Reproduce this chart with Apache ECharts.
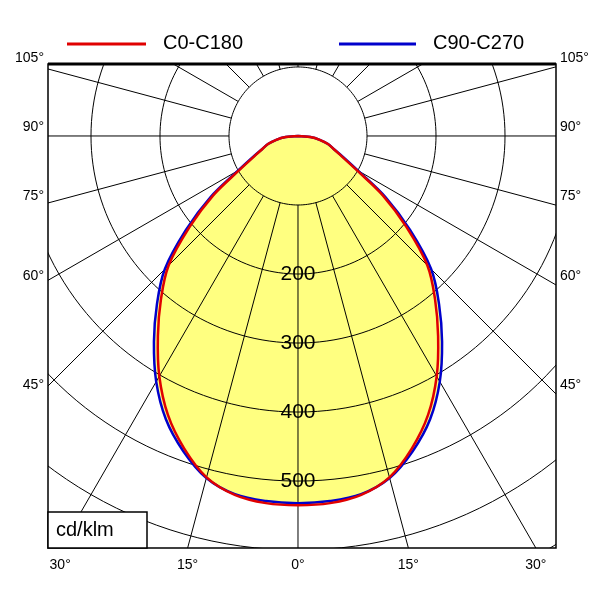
<!DOCTYPE html>
<html><head><meta charset="utf-8">
<script src="https://cdn.jsdelivr.net/npm/echarts@6/dist/echarts.min.js"></script>
<style>html,body{margin:0;background:#fff}#c{width:600px;height:600px}</style>
</head><body><div id="c"></div>
<script>
const angles = [0,5,10,15,20,25,30,35,40,45,50,55,60,65,70,75,80,85,90];
const c0c180 = [535,534,528,512,482,446,402,354,309,265,205,150,97,70,55,45,32,18,0];
const c90c270 = [532,531,527,513,486,453,411,364,318,273,212,155,100,72,55,45,32,18,0];
const ringValues = [100,200,300,400,500,600,700,800,900,1000];
const ringLabels = [200,300,400,500];
const sideLabels = [45,60,75,90,105];
const bottomLabels = [30,15,0,15,30];
const bottomAngles = [-30,-15,0,15,30];
const seriesNames = ['C0-C180','C90-C270'];

const XMIN=-362.3, XMAX=373.9, YMIN=-597, YMAX=104.3;
const rad = d => d*Math.PI/180;
function pt(a, r){ return [r*Math.sin(rad(a)), -r*Math.cos(rad(a))]; }
function curvePts(vals){
  const right = angles.map((a,i)=>pt(a,vals[i]));
  const left = angles.slice().reverse().map((a,i)=>pt(-a, vals[vals.length-1-i]));
  return left.concat(right.slice(1));
}
function polyItem(pts, style, closed){
  return function(params, api){
    const p = pts.map(q=>api.coord(q));
    return {type: closed?'polygon':'polyline', shape:{points:p, smooth:0.35}, style: style, silent:true};
  };
}
const series = [];
const fillVals = c0c180.map((v,i)=>Math.max(v,c90c270[i]));
series.push({type:'custom', clip:true, data:[0], renderItem: polyItem(curvePts(fillVals), {fill:'#ffff80', stroke:null}, true)});
series.push({type:'custom', clip:true, data:ringValues, renderItem:(params, api)=>{
  const r = ringValues[params.dataIndex];
  const p=[]; for(let a=0;a<=360;a+=2) p.push(api.coord(pt(a,r)));
  return {type:'polyline', shape:{points:p}, style:{stroke:'#000', lineWidth:1, fill:null}, silent:true};
}});
const radialAngles=[]; for(let a=0;a<360;a+=15) radialAngles.push(a);
series.push({type:'custom', clip:true, data:radialAngles, renderItem:(params, api)=>{
  const a = radialAngles[params.dataIndex];
  const p1=api.coord(pt(a,100)), p2=api.coord(pt(a,1200));
  return {type:'line', shape:{x1:p1[0], y1:p1[1], x2:p2[0], y2:p2[1]}, style:{stroke:'#000', lineWidth:1}, silent:true};
}});
series.push({type:'custom', clip:true, data:[0], z:5, renderItem: polyItem(curvePts(c90c270), {stroke:'#0000cc', lineWidth:2.5, fill:null}, false)});
series.push({type:'custom', clip:true, data:[0], z:6, renderItem: polyItem(curvePts(c0c180), {stroke:'#e00000', lineWidth:2.5, fill:null}, false)});
series.push({type:'custom', clip:false, data:ringLabels, z:7, renderItem:(params, api)=>{
  const r=ringLabels[params.dataIndex]; const c=api.coord([0,-r]);
  return {type:'text', x:c[0], y:c[1], style:{text:String(r), fill:'#000', font:'21px "Liberation Sans", Arial', align:'center', verticalAlign:'middle'}, silent:true};
}});
series.push({type:'custom', clip:false, data:sideLabels, z:7, renderItem:(params, api)=>{
  const a=sideLabels[params.dataIndex];
  const y = -Math.cos(rad(a))*XMAX/Math.sin(rad(a));
  const cl=api.coord([XMIN,y]), cr=api.coord([XMAX,y]);
  const st=(t,al)=>({text:t, fill:'#000', font:'14px "Liberation Sans", Arial', align:al, verticalAlign:'middle'});
  return {type:'group', children:[
    {type:'text', x:cl[0]-4, y:cl[1]-9, style:st(a+'°','right')},
    {type:'text', x:cr[0]+4, y:cr[1]-9, style:st(a+'°','left')}]};
}});
series.push({type:'custom', clip:false, data:bottomAngles, z:7, renderItem:(params, api)=>{
  const a=bottomAngles[params.dataIndex];
  const c=api.coord([-YMIN*Math.tan(rad(a)), YMIN]);
  return {type:'text', x:c[0], y:c[1]+17, style:{text:bottomLabels[params.dataIndex]+'°', fill:'#000', font:'14px "Liberation Sans", Arial', align:'center', verticalAlign:'middle'}};
}});

const chart = echarts.init(document.getElementById('c'));
chart.setOption({
  animation:false,
  grid:{left:48, top:64, width:508, height:484, show:false},
  xAxis:{type:'value', min:XMIN, max:XMAX, show:false},
  yAxis:{type:'value', min:YMIN, max:YMAX, show:false},
  series: series,
  graphic:[
    {type:'rect', shape:{x:48,y:64,width:508,height:484}, style:{fill:null, stroke:'#000', lineWidth:1.5}, z:100},
    {type:'line', shape:{x1:48,y1:64,x2:556,y2:64}, style:{stroke:'#000', lineWidth:3}, z:100},
    {type:'rect', shape:{x:48,y:512,width:99,height:36}, style:{fill:'#fff', stroke:'#000', lineWidth:1.5}, z:100},
    {type:'text', x:56, y:530, style:{text:'cd/klm', font:'20px "Liberation Sans", Arial', fill:'#000', verticalAlign:'middle'}, z:101},
    {type:'line', shape:{x1:67,y1:44,x2:146,y2:44}, style:{stroke:'#e00000', lineWidth:3}, z:100},
    {type:'text', x:163, y:43, style:{text:seriesNames[0], font:'20px "Liberation Sans", Arial', fill:'#000', verticalAlign:'middle'}, z:100},
    {type:'line', shape:{x1:339,y1:44,x2:416,y2:44}, style:{stroke:'#0000cc', lineWidth:3}, z:100},
    {type:'text', x:433, y:43, style:{text:seriesNames[1], font:'20px "Liberation Sans", Arial', fill:'#000', verticalAlign:'middle'}, z:100}
  ]
});
</script></body></html>
